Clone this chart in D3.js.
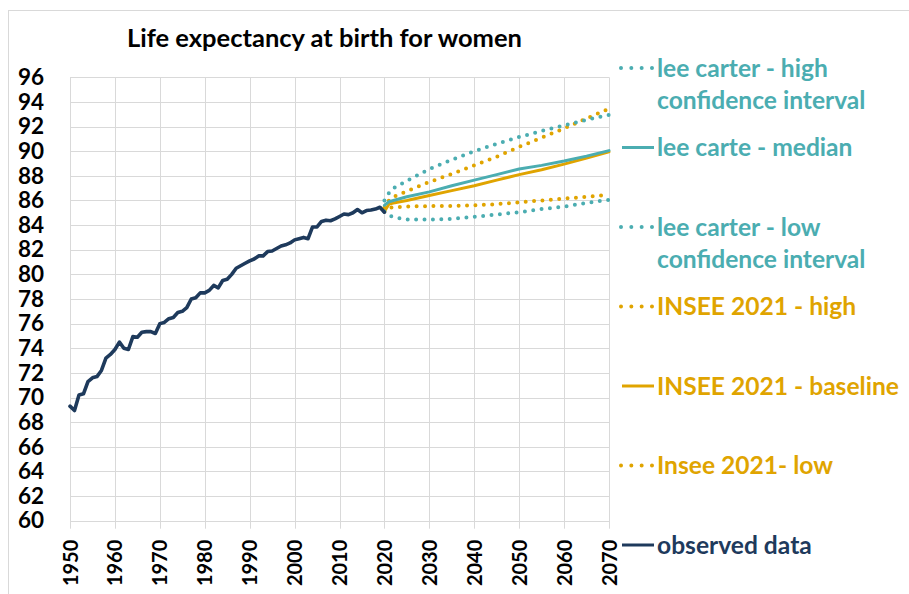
<!DOCTYPE html>
<html>
<head>
<meta charset="utf-8">
<script src="https://cdn.jsdelivr.net/npm/d3@7"></script>
<style>
  html, body { margin: 0; padding: 0; background: #ffffff; }
  svg { display: block; }
  text { font-family: Lato, "Noto Sans", sans-serif; font-weight: 700; }
</style>
</head>
<body>
<svg id="chart" width="909" height="594"></svg>
<script>
// Observed female life expectancy at birth, one value per year from 1950 to 2020
const observedStartYear = 1950;
const observed = [
  69.3, 68.95, 70.2, 70.3, 71.3, 71.6, 71.7, 72.2, 73.2, 73.5,
  73.9, 74.5, 74.0, 73.9, 74.95, 74.9, 75.3, 75.35, 75.35, 75.2,
  76.0, 76.1, 76.4, 76.5, 76.9, 77.0, 77.3, 78.0, 78.1, 78.5,
  78.5, 78.7, 79.1, 78.9, 79.5, 79.6, 80.0, 80.5, 80.7, 80.9,
  81.1, 81.25, 81.5, 81.5, 81.85, 81.9, 82.1, 82.3, 82.4, 82.55,
  82.8, 82.9, 83.0, 82.9, 83.85, 83.85, 84.3, 84.4, 84.35, 84.5,
  84.7, 84.9, 84.85, 85.0, 85.26, 85.0, 85.18, 85.22, 85.3, 85.45,
  85.05
];

// Projection scenarios
const projectionYears = [2020, 2021, 2022, 2025, 2030, 2035, 2040, 2045, 2050, 2055, 2060, 2065, 2070];
const leeCarterHigh   = [86.0, 86.6, 87.0, 87.6, 88.55, 89.3, 90.0, 90.6, 91.15, 91.65, 92.1, 92.55, 92.95];
const leeCarterMedian = [85.6, 85.9, 86.0, 86.3, 86.7, 87.2, 87.65, 88.1, 88.55, 88.85, 89.2, 89.6, 90.05];
const leeCarterLow    = [85.1, 84.8, 84.65, 84.45, 84.45, 84.5, 84.68, 84.85, 85.05, 85.3, 85.5, 85.8, 86.05];
const inseeHigh       = [85.4, 86.0, 86.3, 86.75, 87.5, 88.15, 88.85, 89.55, 90.35, 91.1, 91.85, 92.65, 93.45];
const inseeBaseline   = [85.1, 85.7, 85.8, 86.0, 86.4, 86.8, 87.2, 87.65, 88.1, 88.5, 88.95, 89.45, 89.95];
const inseeLow        = [85.1, 85.4, 85.45, 85.5, 85.55, 85.55, 85.6, 85.7, 85.85, 86.0, 86.15, 86.3, 86.45];

// Axis ticks
const xTickYears = [1950, 1960, 1970, 1980, 1990, 2000, 2010, 2020, 2030, 2040, 2050, 2060, 2070];
const yTickValues = [60, 62, 64, 66, 68, 70, 72, 74, 76, 78, 80, 82, 84, 86, 88, 90, 92, 94, 96];

const chartTitle = "Life expectancy at birth for women";

const TEAL = "#4BADB1";
const GOLD = "#E0A400";
const NAVY = "#1E3A5C";

// Series definitions (drawing order) and legend entries
const series = [
  { key: "inseeLow",      values: inseeLow,        color: GOLD, dotted: true },
  { key: "inseeHigh",     values: inseeHigh,       color: GOLD, dotted: true },
  { key: "inseeBaseline", values: inseeBaseline,   color: GOLD, dotted: false },
  { key: "lcLow",         values: leeCarterLow,    color: TEAL, dotted: true },
  { key: "lcHigh",        values: leeCarterHigh,   color: TEAL, dotted: true },
  { key: "lcMedian",      values: leeCarterMedian, color: TEAL, dotted: false }
];

const legendEntries = [
  { lines: ["lee carter - high", "confidence interval"], color: TEAL, dotted: true },
  { lines: ["lee carte - median"], color: TEAL, dotted: false },
  { lines: ["lee carter - low", "confidence interval"], color: TEAL, dotted: true },
  { lines: ["INSEE 2021 - high"], color: GOLD, dotted: true },
  { lines: ["INSEE 2021 - baseline"], color: GOLD, dotted: false },
  { lines: ["Insee 2021- low"], color: GOLD, dotted: true },
  { lines: ["observed data"], color: NAVY, dotted: false }
];

const svg = d3.select("#chart");

// Outer chart frame
svg.append("rect")
  .attr("x", 8.5).attr("y", 10.5)
  .attr("width", 1000).attr("height", 700)
  .attr("fill", "none")
  .attr("stroke", "#d9d9d9")
  .attr("stroke-width", 1);

const plot = { left: 70, right: 609, top: 77.3, bottom: 520.7 };

const x = d3.scaleLinear().domain([1950, 2070]).range([plot.left, plot.right]);
const y = d3.scaleLinear().domain([60, 96]).range([plot.bottom, plot.top]);

// Gridlines
const grid = svg.append("g").attr("class", "grid");
grid.selectAll("line.h").data(yTickValues).join("line")
  .attr("class", "h")
  .attr("x1", plot.left).attr("x2", plot.right)
  .attr("y1", d => Math.round(y(d)) + 0.5).attr("y2", d => Math.round(y(d)) + 0.5)
  .attr("stroke", "#d9d9d9").attr("stroke-width", 1);
grid.selectAll("line.v").data(xTickYears).join("line")
  .attr("class", "v")
  .attr("x1", d => Math.round(x(d)) + 0.5).attr("x2", d => Math.round(x(d)) + 0.5)
  .attr("y1", plot.top).attr("y2", plot.bottom + 8)
  .attr("stroke", "#d9d9d9").attr("stroke-width", 1);

// Y axis labels
const yAxis = svg.append("g")
  .attr("transform", `translate(${plot.left},0)`)
  .call(d3.axisLeft(y).tickValues(yTickValues).tickSize(0).tickPadding(26));
yAxis.select(".domain").remove();
yAxis.selectAll("text")
  .attr("font-size", 22.5)
  .attr("font-family", "Lato, 'Noto Sans', sans-serif")
  .attr("font-weight", 700)
  .attr("fill", "#000");

// X axis labels, rotated
const xAxis = svg.append("g")
  .attr("transform", `translate(0,${plot.bottom})`)
  .call(d3.axisBottom(x).tickValues(xTickYears).tickFormat(d3.format("d")).tickSize(0));
xAxis.select(".domain").remove();
xAxis.selectAll("text")
  .attr("font-size", 20)
  .attr("font-family", "Lato, 'Noto Sans', sans-serif")
  .attr("font-weight", 700)
  .attr("fill", "#000")
  .attr("text-anchor", "end")
  .attr("dy", "0.35em")
  .attr("transform", "translate(0,19) rotate(-90)")
  .attr("x", 0).attr("y", 0);

// Lines
const line = d3.line().x(d => x(d[0])).y(d => y(d[1]));

const projGroup = svg.append("g").attr("class", "projections");
series.forEach(s => {
  const pts = projectionYears.map((yr, i) => [yr, s.values[i]]);
  projGroup.append("path")
    .datum(pts)
    .attr("d", line)
    .attr("fill", "none")
    .attr("stroke", s.color)
    .attr("stroke-width", s.dotted ? 4 : 3)
    .attr("stroke-linecap", "round")
    .attr("stroke-linejoin", "round")
    .attr("stroke-dasharray", s.dotted ? "0 8.4" : null);
});

const obsPts = observed.map((v, i) => [observedStartYear + i, v]);
svg.append("path")
  .datum(obsPts)
  .attr("d", line)
  .attr("fill", "none")
  .attr("stroke", NAVY)
  .attr("stroke-width", 3.6)
  .attr("stroke-linejoin", "round")
  .attr("stroke-linecap", "round");

// Title
svg.append("text")
  .attr("x", 127).attr("y", 47)
  .attr("font-size", 25.5)
  .attr("fill", "#000")
  .text(chartTitle);

// Legend
const legend = svg.append("g").attr("class", "legend");
const legendTop = 68, legendStep = 79.5, lineGap = 32;
legendEntries.forEach((e, i) => {
  const cy = legendTop + i * legendStep;
  const g = legend.append("g").attr("transform", `translate(0,${cy})`);
  g.append("line")
    .attr("x1", e.dotted ? 621 : 622).attr("x2", e.dotted ? 652 : 654)
    .attr("y1", 0).attr("y2", 0)
    .attr("stroke", e.color)
    .attr("stroke-width", e.dotted ? 4 : 3)
    .attr("stroke-linecap", e.dotted ? "round" : "butt")
    .attr("stroke-dasharray", e.dotted ? "0 10.33" : null);
  e.lines.forEach((t, j) => {
    g.append("text")
      .attr("x", 657).attr("y", j * lineGap)
      .attr("dy", "0.35em")
      .attr("font-size", 24.6)
      .attr("fill", e.color)
      .text(t);
  });
});
</script>
</body>
</html>
